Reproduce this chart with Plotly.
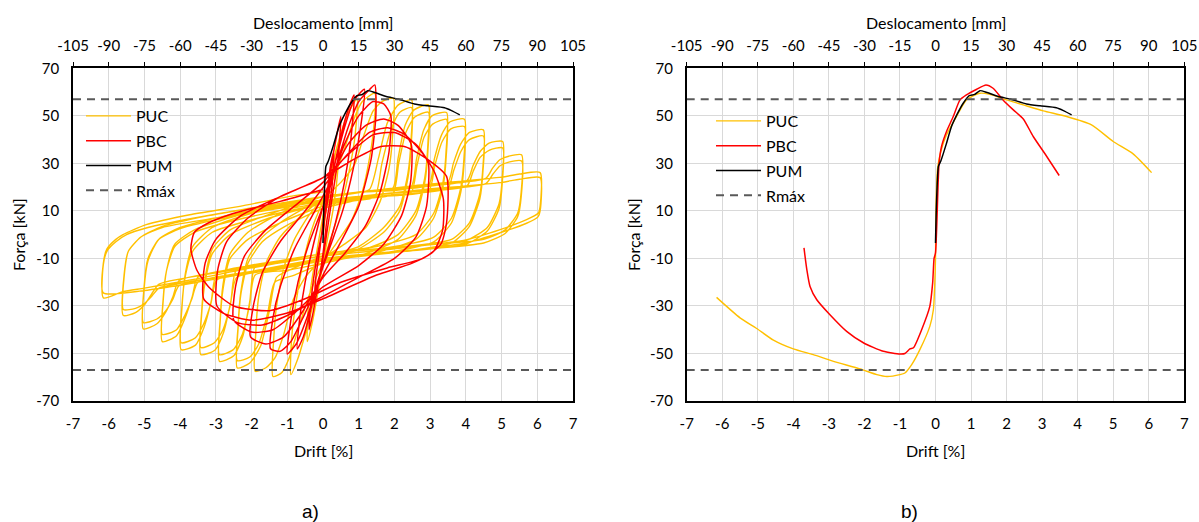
import plotly.graph_objects as go

# ---------------- data ----------------
drift_ticks = list(range(-7, 8))
disp_ticks = list(range(-105, 106, 15))
force_ticks = [-70, -50, -30, -10, 10, 30, 50, 70]
rmax = 57

# PUC cyclic test (drift %, force kN)
puc_cyclic = [
    (0, 0), (0.1, 12), (0.25, 28), (0.45, 40), (0.42, 28), (0.3, 12), (0.15, 0), (0, -12), (-0.15, -25), (-0.3, -37), (-0.44, -45),
    (-0.42, -32), (-0.3, -18), (-0.15, -5), (0, 8), (0.2, 24), (0.45, 40), (0.7, 51), (0.95, 57), (0.9, 42), (0.75, 28), (0.5, 12), (0.25, 0), (0, -12), (-0.25, -28), (-0.5, -42), (-0.7, -52), (-0.9, -58.9),
    (-0.88, -44), (-0.75, -28), (-0.5, -8), (-0.25, 5), (0, 14), (0.3, 24), (0.6, 36), (0.85, 48), (1.1, 56), (1.45, 59.5), (1.42, 45), (1.3, 32), (1.1, 18), (0.8, 6), (0.4, -3), (0, -12), (-0.4, -26), (-0.7, -40), (-0.95, -52), (-1.15, -58), (-1.4, -59.7),
    (-1.38, -44), (-1.3, -30), (-1.1, -14), (-0.8, -2), (-0.4, 8), (0, 15), (0.5, 22), (0.9, 30), (1.15, 42), (1.4, 52), (1.65, 56), (1.97, 57.4), (1.95, 42), (1.85, 28), (1.6, 14), (1.2, 3), (0.6, -4), (0, -10), (-0.5, -18), (-0.85, -28), (-1.1, -42), (-1.35, -52), (-1.6, -56), (-1.9, -57.5),
    (-1.88, -41), (-1.8, -26), (-1.6, -12), (-1.2, -1), (-0.6, 8), (0, 15), (0.7, 17), (1.3, 19), (1.55, 32), (1.8, 47), (2.1, 54.5), (2.48, 56.7), (2.47, 41), (2.38, 26), (2.15, 12), (1.7, 3), (1, -5), (0, -9), (-0.8, -14), (-1.3, -18), (-1.5, -32), (-1.75, -47), (-2.05, -54), (-2.4, -56.1),
    (-2.38, -40), (-2.3, -25), (-2.1, -12), (-1.7, -3), (-1.0, 4), (0, 11), (0.8, 14), (1.45, 16), (1.65, 30), (1.9, 44), (2.15, 51.5), (2.48, 53.5), (2.47, 38), (2.38, 24), (2.15, 10), (1.7, 1), (1, -6), (0, -12), (-0.8, -17), (-1.35, -20), (-1.55, -33), (-1.8, -46), (-2.05, -51.5), (-2.4, -53),
    (-2.38, -39), (-2.3, -24), (-2.1, -10), (-1.7, -1), (-1.1, 6), (0, 15), (1, 18), (1.95, 19.5), (2.1, 32), (2.3, 46), (2.55, 52.5), (2.95, 54.6), (2.94, 39), (2.85, 24), (2.6, 10), (2.1, 0), (1.2, -6), (0, -9), (-1, -11), (-1.9, -13.5), (-2.05, -28), (-2.25, -43), (-2.5, -51), (-2.9, -53.3),
    (-2.88, -37), (-2.8, -23), (-2.6, -10), (-2.1, -2), (-1.2, 5), (0, 12), (1, 15), (1.95, 17), (2.12, 30), (2.32, 43), (2.57, 49.5), (2.95, 51.5), (2.94, 36), (2.85, 22), (2.6, 8), (2.1, -2), (1.2, -8), (0, -12), (-1, -15), (-1.9, -17), (-2.06, -30), (-2.26, -42), (-2.52, -48.5), (-2.9, -50.5),
    (-2.88, -36), (-2.8, -21), (-2.6, -8), (-2.1, 1), (-1.2, 9), (0, 16), (1.2, 18), (2.46, 20), (2.62, 32), (2.82, 44), (3.05, 50), (3.46, 51.4), (3.45, 36), (3.36, 22), (3.1, 9), (2.6, 0), (1.5, -5), (0, -8), (-1.2, -11), (-2.42, -14.8), (-2.58, -28), (-2.78, -41), (-3.02, -48.5), (-3.42, -50.5),
    (-3.4, -34), (-3.3, -20), (-3.1, -8), (-2.6, 0), (-1.5, 7), (0, 13), (1.2, 16), (2.46, 17.5), (2.63, 29), (2.83, 41), (3.07, 46.5), (3.46, 48.5), (3.45, 33), (3.36, 20), (3.1, 7), (2.6, -2), (1.5, -7.5), (0, -11), (-1.2, -14.5), (-2.42, -18), (-2.6, -30), (-2.8, -40), (-3.04, -45.5), (-3.42, -47.5),
    (-3.4, -33), (-3.3, -18), (-3.1, -6), (-2.6, 2), (-1.6, 8), (0, 16), (1.5, 18.5), (2.96, 21), (3.12, 32), (3.32, 42), (3.56, 47.5), (3.96, 48.6), (3.95, 33), (3.86, 20), (3.6, 7), (3.1, -1), (1.8, -5.5), (0, -8), (-1.5, -12), (-2.97, -16.3), (-3.13, -28), (-3.33, -39), (-3.57, -46.5), (-3.97, -48.4),
    (-3.95, -30), (-3.85, -17), (-3.65, -7), (-3.1, 1), (-1.8, 7), (0, 13), (1.5, 16), (2.96, 18.5), (3.13, 29), (3.33, 39), (3.58, 44.5), (3.96, 45.5), (3.95, 30), (3.86, 18), (3.6, 5), (3.1, -3), (1.8, -7.5), (0, -11), (-1.5, -15), (-2.97, -19), (-3.14, -29), (-3.34, -37.5), (-3.58, -43.5), (-3.97, -45.5),
    (-3.95, -31), (-3.85, -16), (-3.65, -5), (-3.1, 3), (-2, 9), (0, 16), (1.8, 19), (3.49, 22), (3.65, 30), (3.85, 38), (4.1, 43), (4.49, 44.1), (4.48, 29), (4.39, 17), (4.1, 5), (3.6, -2), (2, -5.5), (0, -8), (-1.8, -13), (-3.5, -17.8), (-3.66, -26), (-3.86, -35), (-4.1, -42.5), (-4.5, -45),
    (-4.48, -28), (-4.38, -15), (-4.15, -5), (-3.6, 1), (-2.2, 7), (0, 13.5), (1.8, 16.5), (3.49, 19.5), (3.66, 27), (3.86, 35), (4.1, 40), (4.49, 41.5), (4.48, 27), (4.39, 15), (4.1, 3.5), (3.6, -3.5), (2, -7.5), (0, -10.5), (-1.8, -15), (-3.5, -20), (-3.67, -27), (-3.87, -34), (-4.1, -40), (-4.5, -42),
    (-4.48, -29), (-4.38, -15), (-4.15, -4), (-3.6, 2), (-2.4, 8), (0, 16), (2, 19.5), (4.03, 22.8), (4.2, 29), (4.4, 35), (4.65, 38.5), (5.03, 39.2), (5.02, 24), (4.93, 13), (4.6, 3), (4, -2.5), (2.3, -5), (0, -8), (-2, -13.6), (-4.03, -19.3), (-4.2, -26), (-4.4, -32.5), (-4.65, -37.5), (-5.03, -39.7),
    (-5.01, -22), (-4.9, -10), (-4.6, -2), (-4, 2.5), (-2.6, 7.5), (0, 14), (2, 17.5), (4.03, 20.5), (4.2, 26.5), (4.4, 32.5), (4.65, 35.5), (5.03, 36.5), (5.02, 22), (4.93, 11), (4.6, 1.5), (4, -4), (2.3, -7), (0, -10), (-2, -15.5), (-4.03, -21.5), (-4.2, -27), (-4.4, -32), (-4.65, -35.5), (-5.03, -37),
    (-5.01, -23), (-4.9, -11), (-4.6, -2), (-4, 3), (-2.7, 8), (0, 16), (2.3, 20), (4.56, 23.7), (4.75, 28), (4.95, 31.5), (5.2, 33), (5.56, 33.6), (5.55, 18), (5.45, 9), (5.1, 2), (4.5, -2), (2.5, -4.8), (0, -8), (-2.3, -14.4), (-4.59, -20.8), (-4.8, -25), (-5.0, -29.5), (-5.25, -32.8), (-5.59, -34),
    (-5.57, -17), (-5.45, -7), (-5.1, -1), (-4.5, 3), (-3, 7), (0, 14.5), (2.3, 18), (4.56, 21.5), (4.76, 25.5), (4.96, 29), (5.2, 30.5), (5.56, 31), (5.55, 16), (5.45, 7.5), (5.1, 0.5), (4.5, -3.5), (2.5, -6.5), (0, -10), (-2.3, -16.5), (-4.59, -22.5), (-4.8, -26), (-5.0, -29), (-5.25, -31), (-5.59, -31.5),
    (-5.57, -18), (-5.45, -7), (-5.1, -1), (-4.5, 3.5), (-3.2, 8), (-1.5, 12.5), (0, 16), (2.5, 20.5), (5.0, 24.2), (5.5, 25.5), (6.08, 26.1), (6.08, 12), (6.03, 9.1), (5.7, 6.3), (4.96, 2.1), (4.03, -2.1), (2, -6), (0, -9), (-2, -14), (-3.5, -18.5), (-5, -22.5), (-5.6, -24), (-6.15, -26.6),
    (-6.15, -12.5), (-6.05, -7), (-5.8, -3), (-5.5, 0), (-4.9, 3), (-3.6, 7), (-2, 11), (0, 14.5), (2.5, 18.5), (5, 22), (5.5, 23.3), (6.08, 24), (6.08, 10), (6.02, 7.5), (5.7, 4.8), (4.96, 0.8), (4, -3.5), (2, -7.5), (0, -11), (-2, -16), (-3.5, -20), (-5, -23.5), (-6.15, -24.5),
    (-6.15, -12), (-6.05, -6), (-5.8, -2), (-5.6, 0), (-4.95, 4.2), (-3.73, 8.4), (-2.33, 11.9), (-0.93, 16.1), (0, 18),
]

# PBC cyclic test
pbc_cyclic = [
    (0, 0), (0.1, 15), (0.2, 28), (0.3, 35), (0.25, 20), (0.1, 5), (0, -8), (-0.12, -20), (-0.25, -30),
    (-0.2, -18), (-0.08, -5), (0, 5), (0.15, 20), (0.3, 35), (0.5, 49.7), (0.42, 32), (0.25, 15), (0.1, 0), (0, -10), (-0.15, -22), (-0.28, -33), (-0.39, -40),
    (-0.33, -27), (-0.2, -12), (0, 3), (0.2, 20), (0.45, 38), (0.65, 50), (0.87, 58.8), (0.78, 40), (0.6, 22), (0.35, 5), (0.1, -8), (-0.15, -20), (-0.4, -35), (-0.55, -43), (-0.72, -48.1),
    (-0.65, -35), (-0.5, -20), (-0.25, -3), (0, 12), (0.3, 28), (0.6, 45), (0.85, 56), (1.16, 61.2), (1.05, 45), (0.85, 28), (0.55, 10), (0.2, -5), (-0.1, -18), (-0.45, -35), (-0.75, -46), (-1.0, -50.2),
    (-0.9, -36), (-0.7, -20), (-0.4, -4), (0, 12), (0.35, 28), (0.7, 45), (1.0, 56), (1.3, 61), (1.45, 63), (1.48, 50), (1.35, 32), (1.0, 12), (0.5, -3), (0, -17), (-0.5, -33), (-0.9, -45), (-1.2, -49.1), (-1.47, -48),
    (-1.4, -35), (-1.2, -22), (-0.8, -6), (-0.3, 8), (0.2, 22), (0.6, 38), (1.0, 50), (1.4, 56), (1.7, 55), (1.9, 50), (1.85, 35), (1.6, 18), (1.2, 4), (0.6, -8), (0, -18), (-0.6, -33), (-1.1, -43), (-1.6, -46), (-2.03, -43),
    (-1.95, -30), (-1.7, -16), (-1.2, -3), (-0.5, 10), (0.2, 24), (0.7, 38), (1.2, 46), (1.7, 48.7), (2.1, 46), (2.47, 38), (2.45, 22), (2.2, 8), (1.7, -4), (1, -13), (0, -22), (-0.8, -33), (-1.4, -40), (-2, -41), (-2.5, -36),
    (-2.45, -22), (-2.2, -9), (-1.6, 2), (-0.8, 12), (0, 22), (0.7, 34), (1.3, 43), (1.8, 45), (2.3, 42), (2.75, 35), (2.95, 30), (2.9, 12), (2.6, -1), (2, -10), (1, -18), (0, -26), (-1, -34), (-1.7, -38), (-2.4, -37), (-2.97, -30),
    (-2.95, -15), (-2.7, -3), (-2.1, 7), (-1.2, 16), (0, 24), (0.8, 35), (1.4, 42), (2, 43), (2.6, 38), (3.1, 27), (3.37, 15), (3.35, 2), (3.1, -7), (2.5, -12), (1.5, -17), (0, -27), (-1, -33), (-2, -36), (-2.8, -33), (-3.34, -27),
    (-3.3, -12), (-3, -2), (-2.3, 8), (-1.2, 16), (0, 24), (0.9, 32), (1.6, 37), (2.3, 37), (2.9, 32), (3.46, 24.5), (3.46, 5), (3.3, -4), (2.8, -10), (1.8, -14), (0.5, -20), (-0.5, -27), (-1.5, -32), (-2.5, -30), (-3.2, -22), (-3.53, -15), (-3.7, -6),
    (-3.6, 1), (-3.2, 5), (-2.6, 8.5), (-2, 11), (-1.2, 14), (0, 19),
]

# PUM monotonic test
pum_curve = [
    (0, -3.5), (0.02, 10), (0.05, 22), (0.08, 28.7), (0.15, 31), (0.3, 38), (0.45, 45.5), (0.62, 51), (0.78, 55.3),
    (0.95, 58.5), (1.1, 59), (1.25, 60.6), (1.43, 59.9), (1.77, 58.1), (2.1, 57.1), (2.56, 55), (2.94, 54.2),
    (3.4, 53.4), (3.6, 52.2), (3.83, 50.4),
]

# Envelopes (panel b)
puc_envelope = [
    (-6.16, -26.4), (-5.5, -35.0), (-5.03, -39.5), (-4.56, -44.4), (-4.0, -48.1), (-3.44, -50.5), (-2.87, -53.3),
    (-2.12, -56.5), (-1.65, -58.9), (-1.37, -59.7), (-1.0, -58.9), (-0.86, -58.2), (-0.67, -54.7), (-0.44, -48.4),
    (-0.16, -38.6), (-0.06, -31.6), (-0.02, -20.3), (0, -10), (0.02, 14.7), (0.06, 28), (0.15, 35), (0.31, 42),
    (0.59, 49.7), (0.87, 56.7), (1.25, 59.5), (1.53, 59), (2.0, 56.7), (2.47, 54.6), (3.03, 52.1), (3.69, 49.7),
    (4.39, 46.2), (5.0, 39.2), (5.56, 34), (6.08, 26.1),
]
pbc_envelope = [
    (-3.70, -5.6), (-3.62, -14.7), (-3.53, -21.8), (-3.34, -27.4), (-2.97, -33.7), (-2.5, -40.7), (-2.03, -45.5),
    (-1.47, -49.1), (-1.0, -50.2), (-0.86, -50), (-0.72, -48.1), (-0.62, -47.6), (-0.39, -40), (-0.16, -30.2),
    (-0.08, -20.3), (-0.04, -10), (0.0, -7.7), (0.1, 30), (0.17, 37.1), (0.31, 43.4), (0.5, 49.7), (0.69, 56.7),
    (0.87, 58.8), (1.16, 61.2), (1.42, 63.0), (1.62, 61.6), (1.9, 56.7), (2.19, 52.5), (2.47, 48.7), (2.75, 41.3),
    (3.13, 32.9), (3.48, 24.9),
]

# ---------------- figure ----------------
YELLOW = "#FFC000"
RED = "#FF0000"
BLACK = "#000000"
GREY = "#595959"
FONT = "Lato"


def xs(pts):
    return [p[0] for p in pts]


def ys(pts):
    return [p[1] for p in pts]


rmax_x = [drift_ticks[0], drift_ticks[-1], None, drift_ticks[0], drift_ticks[-1]]
rmax_y = [rmax, rmax, None, -rmax, -rmax]

fig = go.Figure()

panels = [
    ("x", "y", "legend", puc_cyclic, pbc_cyclic, "x3"),
    ("x2", "y2", "legend2", puc_envelope, pbc_envelope, "x4"),
]
for xa, ya, lg, puc, pbc, xtop in panels:
    fig.add_trace(go.Scatter(x=[disp_ticks[0], disp_ticks[-1]], y=[None, None], xaxis=xtop, yaxis=ya,
                             mode="lines", showlegend=False, hoverinfo="skip"))
    fig.add_trace(go.Scatter(x=xs(puc), y=ys(puc), xaxis=xa, yaxis=ya, mode="lines", name="PUC", legend=lg,
                             legendgroup="a", line=dict(color=YELLOW, width=1.4, shape="spline", smoothing=0.6)))
    fig.add_trace(go.Scatter(x=xs(pbc), y=ys(pbc), xaxis=xa, yaxis=ya, mode="lines", name="PBC", legend=lg,
                             legendgroup="b", line=dict(color=RED, width=1.5, shape="spline", smoothing=0.6)))
    fig.add_trace(go.Scatter(x=xs(pum_curve), y=ys(pum_curve), xaxis=xa, yaxis=ya, mode="lines", name="PUM",
                             legend=lg, legendgroup="c", line=dict(color=BLACK, width=1.5, shape="spline", smoothing=0.5)))
    fig.add_trace(go.Scatter(x=rmax_x, y=rmax_y, xaxis=xa, yaxis=ya, mode="lines", name="Rmáx", legend=lg,
                             legendgroup="d", line=dict(color=GREY, width=2, dash="8px,6px")))

W, H = 1199, 522
ax_dom = [[73 / W, 573 / W], [686.7 / W, 1184.3 / W]]
y_dom = [1 - 401 / H, 1 - 68.3 / H]

tickfont = dict(family=FONT, size=15, color="#000000")
common_x = dict(range=[-7, 7], tickvals=drift_ticks, ticktext=[str(v) for v in drift_ticks],
                showgrid=True, gridcolor="#D9D9D9", gridwidth=1, automargin=False,
                showline=True, linecolor="#000000", linewidth=1.5, ticks="", zeroline=False,
                tickfont=tickfont, ticklabelstandoff=8)
common_y = dict(domain=y_dom, range=[-70, 70], tickvals=force_ticks, ticktext=[str(v) for v in force_ticks],
                showgrid=True, gridcolor="#D9D9D9", automargin=False,
                gridwidth=1, showline=True, mirror=True, linecolor="#000000", linewidth=1.5, ticks="",
                zeroline=False, tickfont=tickfont, ticklabelstandoff=9)
common_top = dict(range=[-105, 105], tickvals=disp_ticks, ticktext=[str(v) for v in disp_ticks], side="top",
                  showgrid=False, zeroline=False, automargin=False,
                  showline=True, linecolor="#000000", linewidth=1.5, ticks="outside", ticklen=5,
                  tickcolor="#000000", tickwidth=1, tickfont=tickfont, ticklabelstandoff=5)

legend_common = dict(font=dict(family=FONT, size=16, color="#000000"), bgcolor="rgba(0,0,0,0)",
                     traceorder="grouped", tracegroupgap=1, xanchor="left", yanchor="top", itemwidth=45,
                     itemclick=False, itemdoubleclick=False)

fig.update_layout(
    width=W, height=H,
    margin=dict(l=0, r=0, t=0, b=0, autoexpand=False),
    paper_bgcolor="white", plot_bgcolor="white",
    font=dict(family=FONT, size=15, color="#000000"),
    xaxis=dict(domain=ax_dom[0], anchor="y", **common_x),
    yaxis=dict(anchor="x", **common_y),
    xaxis2=dict(domain=ax_dom[1], anchor="y2", **common_x),
    yaxis2=dict(anchor="x2", **common_y),
    xaxis3=dict(overlaying="x", anchor="y", **common_top),
    xaxis4=dict(overlaying="x2", anchor="y2", **common_top),
    legend=dict(x=81 / W, y=1 - 99 / H, **legend_common),
    legend2=dict(x=711 / W, y=1 - 104 / H, **legend_common),
    showlegend=True,
)

ann_font = dict(family=FONT, size=16, color="#000000")
cx = [(73 + 573) / 2 / W, (686.7 + 1184.3) / 2 / W]
for i in range(2):
    fig.add_annotation(text="Deslocamento [mm]", x=cx[i], y=1 - 22 / H, xref="paper", yref="paper",
                       showarrow=False, font=ann_font, xanchor="center", yanchor="middle")
    fig.add_annotation(text="Drift [%]", x=cx[i], y=1 - 450 / H, xref="paper", yref="paper",
                       showarrow=False, font=ann_font, xanchor="center", yanchor="middle")
fig.add_annotation(text="Força [kN]", x=18 / W, y=1 - 235 / H, xref="paper", yref="paper", textangle=-90,
                   showarrow=False, font=ann_font, xanchor="center", yanchor="middle")
fig.add_annotation(text="Força [kN]", x=633 / W, y=1 - 235 / H, xref="paper", yref="paper", textangle=-90,
                   showarrow=False, font=ann_font, xanchor="center", yanchor="middle")
fig.add_annotation(text="a)", x=310 / W, y=1 - 511 / H, xref="paper", yref="paper", showarrow=False,
                   font=dict(family="Liberation Sans", size=19, color="#000000"), xanchor="center", yanchor="middle")
fig.add_annotation(text="b)", x=910 / W, y=1 - 511 / H, xref="paper", yref="paper", showarrow=False,
                   font=dict(family="Liberation Sans", size=19, color="#000000"), xanchor="center", yanchor="middle")

fig.write_html("out.html")
